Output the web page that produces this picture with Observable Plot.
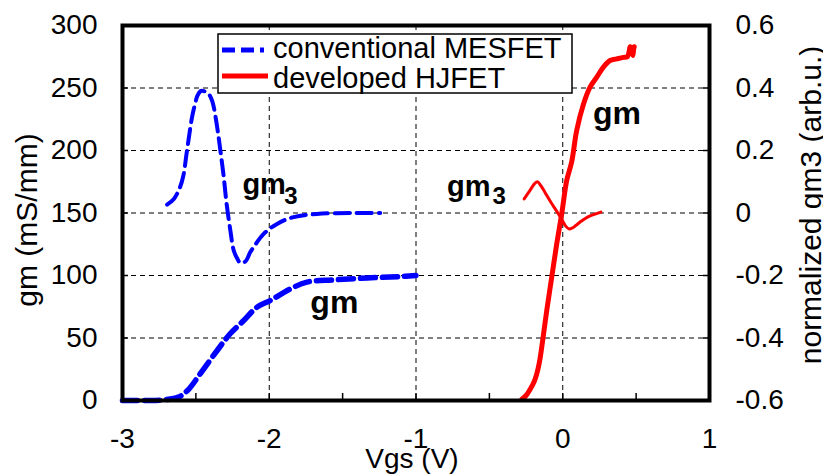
<!DOCTYPE html>
<html>
<head>
<meta charset="utf-8">
<script src="https://cdn.jsdelivr.net/npm/d3@7"></script>
<script src="https://cdn.jsdelivr.net/npm/@observablehq/plot@0.6"></script>
<style>
  body { margin: 0; background: #fff; }
  #chart { position: relative; width: 823px; height: 474px; font-family: "Liberation Sans", Arial, sans-serif; }
</style>
</head>
<body>
<div id="chart"></div>
<script>
// Series names, in legend order
const seriesNames = ["conventional MESFET", "developed HJFET"];
const seriesColors = ["#0000ff", "#ff0000"];

// Conventional MESFET: gm (mS/mm) vs Vgs (V)
const mesfetGm = [
  [-3.0, 0], [-2.85, 0], [-2.72, 0.5], [-2.62, 2.7], [-2.557, 8], [-2.469, 21.6],
  [-2.355, 40], [-2.265, 53.6], [-2.174, 64], [-2.083, 74.7], [-1.993, 80],
  [-1.856, 89.3], [-1.743, 94.7], [-1.56, 96.5], [-1.334, 98], [-1.108, 99.2], [-1.0, 100]
];
// Conventional MESFET: normalized gm3 (arb.u.) vs Vgs (V)
const mesfetGm3 = [
  [-2.696, 0.027], [-2.65, 0.045], [-2.61, 0.08], [-2.585, 0.12], [-2.565, 0.185],
  [-2.545, 0.25], [-2.526, 0.307], [-2.505, 0.35], [-2.49, 0.375], [-2.468, 0.39],
  [-2.445, 0.39], [-2.413, 0.381], [-2.39, 0.36], [-2.378, 0.339], [-2.355, 0.275],
  [-2.333, 0.2], [-2.31, 0.115], [-2.292, 0.035], [-2.265, -0.056], [-2.242, -0.12],
  [-2.219, -0.145], [-2.197, -0.16], [-2.163, -0.155], [-2.129, -0.125], [-2.106, -0.109],
  [-2.038, -0.067], [-1.947, -0.035], [-1.834, -0.013], [-1.675, -0.003], [-1.448, 0.0], [-1.244, 0.0]
];
// Developed HJFET: gm (mS/mm) vs Vgs (V)
const hjfetGm = [
  [-0.279, 1], [-0.25, 4], [-0.222, 9], [-0.195, 15], [-0.177, 21.3], [-0.16, 30],
  [-0.143, 42.7], [-0.109, 72], [-0.075, 98.7], [-0.041, 125.3], [-0.007, 149.3],
  [0.027, 176], [0.061, 191], [0.095, 216], [0.141, 237], [0.186, 250.7], [0.232, 258.7],
  [0.277, 266.7], [0.322, 272], [0.368, 273.3], [0.413, 274.5], [0.44, 275], [0.452, 279],
  [0.46, 283], [0.47, 282], [0.478, 276], [0.483, 281], [0.487, 283]
];
// Developed HJFET: normalized gm3 (arb.u.) vs Vgs (V)
const hjfetGm3 = [
  [-0.263, 0.045], [-0.22, 0.075], [-0.19, 0.095], [-0.172, 0.1], [-0.15, 0.088],
  [-0.12, 0.065], [-0.082, 0.035], [-0.04, 0.005], [-0.002, -0.024], [0.02, -0.042],
  [0.044, -0.051], [0.065, -0.048], [0.089, -0.04], [0.13, -0.025], [0.169, -0.013],
  [0.21, -0.005], [0.26, 0.003]
];

// Axis ticks and titles
const vgsTicks = [-3, -2, -1, 0, 1];
const vgsHalfTicks = [-3, -2.5, -2, -1.5, -1, -0.5, 0, 0.5, 1];
const gmTicks = [0, 50, 100, 150, 200, 250, 300];
const gm3Ticks = [-0.6, -0.4, -0.2, 0, 0.2, 0.4, 0.6];
const xTitle = "Vgs (V)";
const yTitle = "gm (mS/mm)";
const y2Title = "normalized gm3 (arb.u.)";

// Curve labels: [Vgs, gm, text, size]
const curveLabels = [
  [-1.720, 70.4, "gm", 32],
  [0.206, 221.6, "gm", 32],
  [-2.183, 165.6, "gm", 29],
  [-0.788, 164.0, "gm", 29]
];
const subscriptLabels = [
  [-1.897, 157.6, "3", 24],
  [-0.478, 157.6, "3", 24]
];

const W = 823, H = 474;
const mL = 122, mR = 114, mT = 25, mB = 74;
const plotW = W - mL - mR, plotH = H - mT - mB;

// normalized gm3 shares the gm scale: -0.6..0.6 spans 0..300
const toGm = v => 150 + v * 250;
const fmt = v => String(Math.round(v * 10) / 10);

const blueDash = "15,7";
const font = '"Liberation Sans", Arial, sans-serif';

const plot = Plot.plot({
  width: W, height: H,
  marginLeft: mL, marginRight: mR, marginTop: mT, marginBottom: mB,
  style: {fontFamily: font, fontSize: "28px", color: "#000", background: "#fff"},
  x: {domain: [-3, 1]},
  y: {domain: [0, 300]},
  marks: [
    Plot.gridX(vgsTicks.slice(1, -1), {stroke: "#000", strokeOpacity: 1, strokeWidth: 1, strokeDasharray: "5,4"}),
    Plot.gridY(gmTicks.slice(1, -1), {stroke: "#000", strokeOpacity: 1, strokeWidth: 1, strokeDasharray: "5,4"}),
    // inward ticks
    Plot.tickY(gmTicks, {y: d => d, insetRight: plotW - 6, stroke: "#000", strokeWidth: 1.5}),
    Plot.tickY(gm3Ticks, {y: d => toGm(d), insetLeft: plotW - 6, stroke: "#000", strokeWidth: 1.5}),
    Plot.tickX(vgsHalfTicks, {x: d => d, insetTop: plotH - 7, stroke: "#000", strokeWidth: 1.5}),
    // tick labels
    Plot.axisX(vgsTicks, {anchor: "bottom", tickSize: 0, tickPadding: 28, tickFormat: fmt, label: null}),
    Plot.axisY(gmTicks, {anchor: "left", tickSize: 0, tickPadding: 25, tickFormat: fmt, label: null}),
    Plot.axisY(gm3Ticks.map(toGm), {anchor: "right", tickSize: 0, tickPadding: 26, tickFormat: d => fmt((d - 150) / 250), label: null}),
    Plot.text([xTitle], {frameAnchor: "bottom", dx: -4, dy: 67, lineAnchor: "bottom", fontSize: 28}),
    // curves
    Plot.line(mesfetGm3, {x: d => d[0], y: d => toGm(d[1]), stroke: seriesColors[0], strokeWidth: 4, strokeDasharray: blueDash, curve: "catmull-rom"}),
    Plot.line(mesfetGm, {x: d => d[0], y: d => d[1], stroke: seriesColors[0], strokeWidth: 5.5, strokeDasharray: blueDash, curve: "catmull-rom"}),
    Plot.line(hjfetGm3, {x: d => d[0], y: d => toGm(d[1]), stroke: seriesColors[1], strokeWidth: 3, curve: "catmull-rom"}),
    Plot.line(hjfetGm, {x: d => d[0], y: d => d[1], stroke: seriesColors[1], strokeWidth: 5, curve: "catmull-rom"}),
    // curve labels
    Plot.text(curveLabels, {x: d => d[0], y: d => d[1], text: d => d[2], fontSize: d => d[3], fontWeight: "bold", textAnchor: "start", lineAnchor: "bottom"}),
    Plot.text(subscriptLabels, {x: d => d[0], y: d => d[1], text: d => d[2], fontSize: d => d[3], fontWeight: "bold", textAnchor: "start", lineAnchor: "bottom"}),
    Plot.frame({stroke: "#000", strokeWidth: 4})
  ]
});

const chart = document.getElementById("chart");
chart.appendChild(plot);

// Rotated y-axis titles on both sides
const svg = d3.select(plot);
[[yTitle, 26, 220], [y2Title, 810, 205]].forEach(([t, cx, cy]) => {
  svg.append("text")
    .attr("transform", `translate(${cx},${cy}) rotate(-90)`)
    .attr("text-anchor", "middle").attr("dy", "0.35em")
    .attr("font-size", 30).attr("font-family", font).attr("fill", "#000")
    .text(t);
});

// Legend box drawn over the upper part of the plot area
const leg = d3.select(chart).append("svg")
  .style("position", "absolute").style("left", "217px").style("top", "33px")
  .attr("width", 358).attr("height", 62)
  .style("font-family", font);
leg.append("rect").attr("x", 1).attr("y", 1).attr("width", 354).attr("height", 59)
  .attr("fill", "#fff").attr("stroke", "#000").attr("stroke-width", 1.5);
const rows = [
  {name: seriesNames[0], color: seriesColors[0], dash: "13,6,13,6,4", width: 5, ly: 17, ty: 25},
  {name: seriesNames[1], color: seriesColors[1], dash: null, width: 5, ly: 43, ty: 55}
];
rows.forEach(r => {
  leg.append("line").attr("x1", 5).attr("x2", 51).attr("y1", r.ly).attr("y2", r.ly)
    .attr("stroke", r.color).attr("stroke-width", r.width)
    .attr("stroke-dasharray", r.dash);
  leg.append("text").attr("x", 56).attr("y", r.ty).attr("font-size", 29).attr("fill", "#000").text(r.name);
});
</script>
</body>
</html>
